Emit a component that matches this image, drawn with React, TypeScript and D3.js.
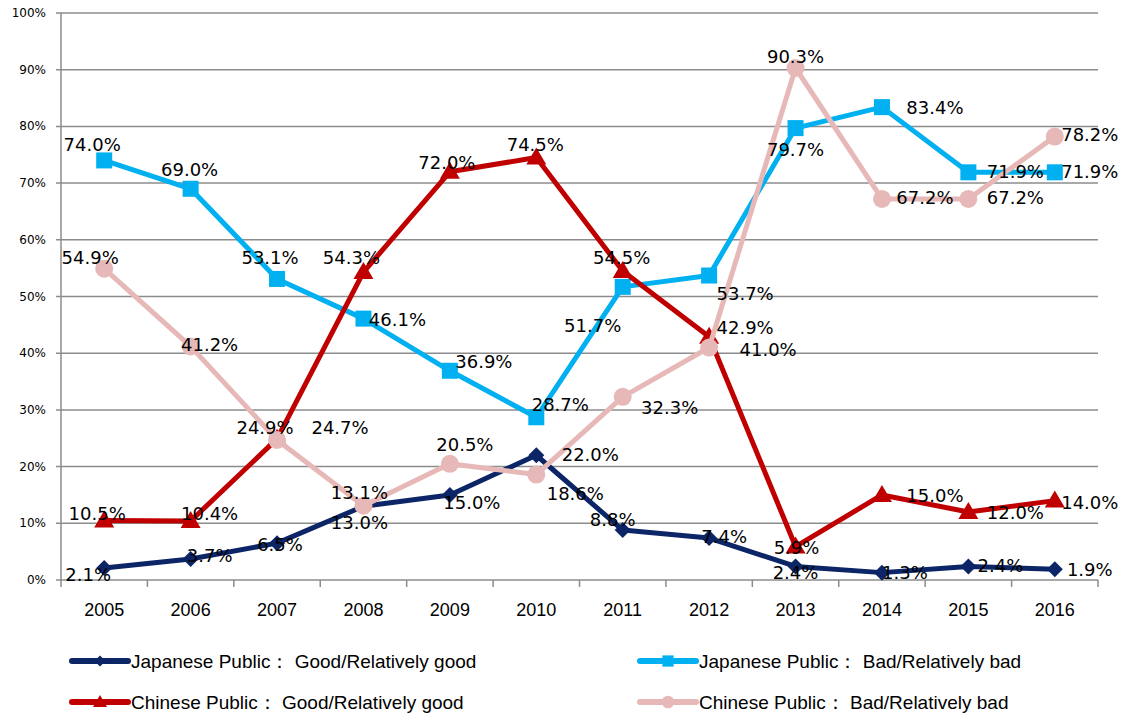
import React from "react";
import * as d3 from "d3";

const years = ["2005", "2006", "2007", "2008", "2009", "2010", "2011", "2012", "2013", "2014", "2015", "2016"];
const jpGood = [2.1, 3.7, 6.5, 13.0, 15.0, 22.0, 8.8, 7.4, 2.4, 1.3, 2.4, 1.9];
const jpBad = [74.0, 69.0, 53.1, 46.1, 36.9, 28.7, 51.7, 53.7, 79.7, 83.4, 71.9, 71.9];
const cnGood = [10.5, 10.4, 24.9, 54.3, 72.0, 74.5, 54.5, 42.9, 5.9, 15.0, 12.0, 14.0];
const cnBad = [54.9, 41.2, 24.7, 13.1, 20.5, 18.6, 32.3, 41.0, 90.3, 67.2, 67.2, 78.2];
const yTicks = [0, 10, 20, 30, 40, 50, 60, 70, 80, 90, 100];

// label offsets (dx, dy) from each point, like excel placed them
const jpGoodLbl = [[-16, 7], [19, -3], [3, 2], [-4, 17], [22, 8], [54, 0], [-10, -10], [15, -1], [0, 7], [23, 0], [32, 0], [35, 1]];
const jpBadLbl = [[-12, -15], [-1, -19], [-7, -21], [34, 1], [34, -9], [24, -12], [-30, 39], [36, 18], [0, 22], [53, 1], [47, 0], [35, 0]];
const cnGoodLbl = [[-7, -6], [19, -7], [-12, -11], [-12, -14], [-3, -9], [-1, -13], [-1, -13], [36, -9], [1, 1], [53, 1], [47, 1], [35, 2]];
const cnBadLbl = [[-14, -11], [19, -1], [63, -12], [-4, -13], [15, -19], [39, 19], [47, 11], [59, 2], [0, -11], [43, -1], [47, -1], [35, -2]];

const series = [
  { name: "Japanese Public： Good/Relatively good", values: jpGood, lbl: jpGoodLbl, color: "#0c2566", marker: "diamond" },
  { name: "Japanese Public： Bad/Relatively bad", values: jpBad, lbl: jpBadLbl, color: "#00b0f0", marker: "square" },
  { name: "Chinese Public： Good/Relatively good", values: cnGood, lbl: cnGoodLbl, color: "#c00000", marker: "triangle" },
  { name: "Chinese Public： Bad/Relatively bad", values: cnBad, lbl: cnBadLbl, color: "#e6b9b8", marker: "circle" },
];

const W = 1127, H = 718;
const left = 61, right = 1098, top = 13, bottom = 580;

function Marker({ type, x, y, color, k = 1 }: { type: string; x: number; y: number; color: string; k?: number }) {
  if (type === "diamond") {
    const s = 8 * k;
    return <path d={`M${x},${y - s}L${x + s},${y}L${x},${y + s}L${x - s},${y}Z`} fill={color} />;
  }
  if (type === "square") {
    return <rect x={x - 8 * k} y={y - 8 * k} width={16 * k} height={16 * k} fill={color} />;
  }
  if (type === "triangle") {
    return <path d={`M${x},${y - 10 * k}L${x + 10 * k},${y + 7 * k}L${x - 10 * k},${y + 7 * k}Z`} fill={color} />;
  }
  return <circle cx={x} cy={y} r={9 * k} fill={color} />;
}

export default function App() {
  const x = d3.scaleBand<string>().domain(years).range([left, right]).padding(0);
  const y = d3.scaleLinear().domain([0, 100]).range([bottom, top]);
  const cx = (yr: string) => (x(yr) as number) + x.bandwidth() / 2;
  const line = d3
    .line<number>()
    .x((_, i) => cx(years[i]))
    .y((d) => y(d));

  const legendPos = [
    [72, 661],
    [640, 661],
    [72, 702],
    [640, 702],
  ];

  return (
    <svg width={W} height={H} style={{ position: "absolute", left: 0, top: 0 }}>
      <rect width={W} height={H} fill="#fff" />
      {yTicks.map((t) => (
        <g key={t}>
          <line x1={left - 5} x2={right} y1={y(t)} y2={y(t)} stroke="#8c8c8c" strokeWidth={1.5} />
          <text x={46} y={y(t) + 4} textAnchor="end" fontFamily="DejaVu Sans" fontSize={12} fill="#000">
            {t}%
          </text>
        </g>
      ))}
      <line x1={left} x2={left} y1={top} y2={bottom} stroke="#8c8c8c" strokeWidth={1.5} />
      {years.map((yr) => (
        <line key={"t" + yr} x1={x(yr) as number} x2={x(yr) as number} y1={bottom} y2={bottom + 7} stroke="#8c8c8c" strokeWidth={1.5} />
      ))}
      <line x1={right} x2={right} y1={bottom} y2={bottom + 7} stroke="#8c8c8c" strokeWidth={1.5} />
      {years.map((yr) => (
        <text key={yr} x={cx(yr)} y={616} textAnchor="middle" fontFamily="Liberation Sans" fontSize={18} fill="#000">
          {yr}
        </text>
      ))}
      {series.map((s) => (
        <g key={s.name}>
          <path d={line(s.values) as string} fill="none" stroke={s.color} strokeWidth={5} strokeLinejoin="round" />
          {s.values.map((v, i) => (
            <Marker key={i} type={s.marker} x={cx(years[i])} y={y(v)} color={s.color} />
          ))}
        </g>
      ))}
      {series.map((s) =>
        s.values.map((v, i) => (
          <text
            key={s.name + i}
            x={cx(years[i]) + s.lbl[i][0]}
            y={y(v) + s.lbl[i][1] + 6}
            textAnchor="middle"
            fontFamily="DejaVu Sans"
            fontSize={18}
            fill="#000"
          >
            {v.toFixed(1)}%
          </text>
        ))
      )}
      {series.map((s, k) => {
        const [lx, ly] = legendPos[k];
        return (
          <g key={"lg" + k}>
            <line x1={lx} x2={lx + 56} y1={ly} y2={ly} stroke={s.color} strokeWidth={6} strokeLinecap="round" />
            <Marker type={s.marker} x={lx + 28} y={ly} color={s.color} k={0.7} />
            <text x={lx + 59} y={ly + 7} fontFamily="Liberation Sans" fontSize={19} fill="#000">
              {s.name}
            </text>
          </g>
        );
      })}
    </svg>
  );
}
